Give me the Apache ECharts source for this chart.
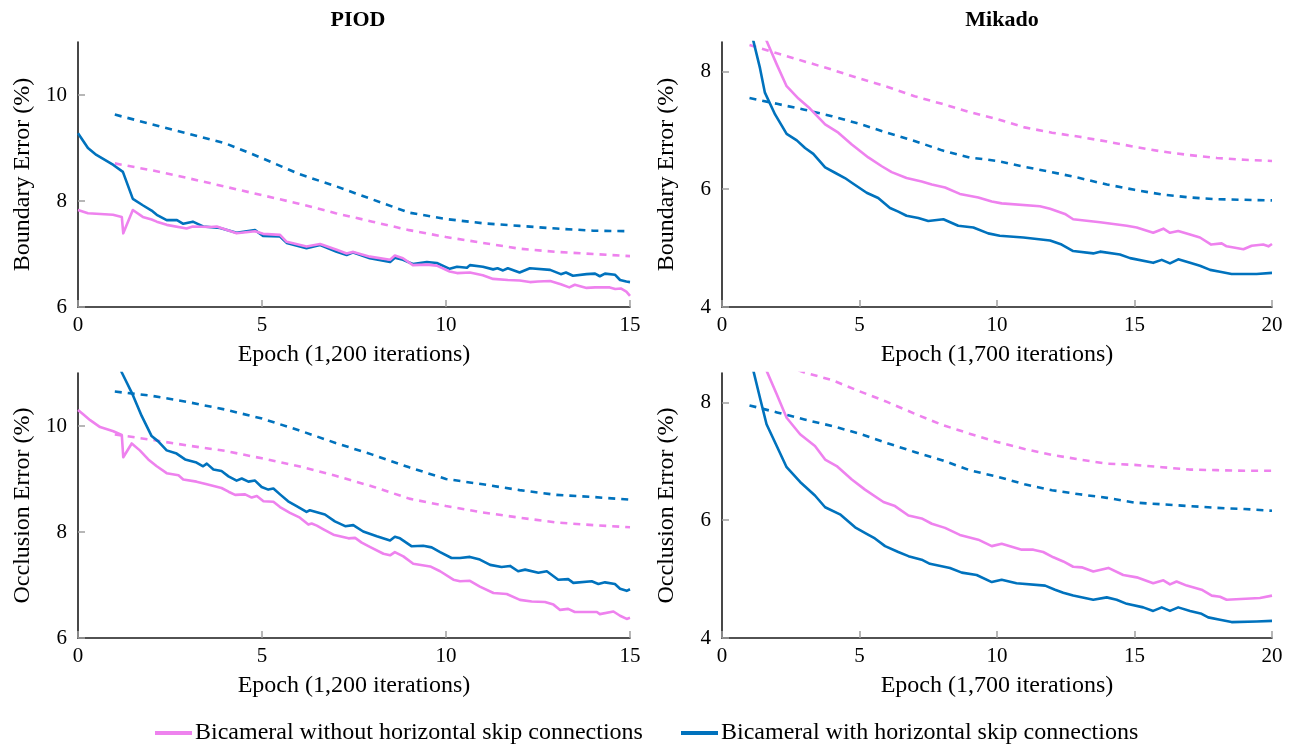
<!DOCTYPE html>
<html>
<head>
<meta charset="utf-8">
<script src="https://cdn.jsdelivr.net/npm/echarts@6/dist/echarts.min.js"></script>
<style>html,body{margin:0;padding:0;background:#fff}#c{width:1293px;height:744px}</style>
</head>
<body>
<div id="c"></div>
<script>
// ---------------- DATA ----------------
const panelTitles = ['PIOD', 'Mikado'];
const seriesNames = ['Bicameral without horizontal skip connections', 'Bicameral with horizontal skip connections'];
const xNamePIOD = 'Epoch (1,200 iterations)';
const xNameMikado = 'Epoch (1,700 iterations)';
const yNameBoundary = 'Boundary Error (%)';
const yNameOcclusion = 'Occlusion Error (%)';
const xTicksPIOD = [0, 5, 10, 15];
const xTicksMikado = [0, 5, 10, 15, 20];
const yTicksPIOD = [6, 8, 10];
const yTicksMikado = [4, 6, 8];

// PIOD boundary
const piodBndWithout = [[0,7.83],[0.27,7.77],[0.95,7.74],[1.19,7.70],[1.23,7.39],[1.49,7.83],[1.76,7.70],[2.0,7.65],[2.14,7.61],[2.41,7.55],[2.95,7.48],[3.12,7.52],[3.59,7.51],[3.77,7.52],[4.31,7.39],[4.81,7.43],[5.03,7.38],[5.49,7.36],[5.67,7.23],[6.21,7.14],[6.58,7.19],[7.03,7.08],[7.3,7.01],[7.48,7.04],[7.93,6.95],[8.48,6.89],[8.61,6.97],[8.83,6.92],[9.1,6.79],[9.48,6.80],[9.75,6.78],[10.1,6.67],[10.3,6.64],[10.65,6.65],[11.0,6.60],[11.28,6.53],[11.68,6.51],[12.0,6.50],[12.28,6.47],[12.5,6.48],[12.83,6.49],[13.12,6.43],[13.35,6.37],[13.5,6.42],[13.82,6.36],[14.05,6.37],[14.45,6.37],[14.6,6.34],[14.75,6.35],[14.9,6.29],[15,6.21]];
const piodBndWith = [[0,9.28],[0.27,9.0],[0.5,8.87],[0.96,8.68],[1.22,8.55],[1.49,8.04],[1.76,7.92],[2.0,7.82],[2.14,7.74],[2.41,7.64],[2.69,7.64],[2.86,7.57],[3.12,7.61],[3.4,7.52],[3.86,7.49],[4.31,7.40],[4.81,7.45],[5.03,7.34],[5.49,7.33],[5.67,7.21],[6.21,7.11],[6.58,7.17],[7.03,7.04],[7.3,6.98],[7.48,7.03],[7.93,6.92],[8.48,6.85],[8.61,6.93],[8.83,6.89],[9.1,6.81],[9.48,6.85],[9.75,6.83],[10.1,6.72],[10.3,6.76],[10.57,6.74],[10.65,6.79],[11.0,6.76],[11.28,6.71],[11.4,6.73],[11.55,6.69],[11.68,6.73],[12.0,6.65],[12.28,6.73],[12.83,6.70],[13.12,6.62],[13.26,6.65],[13.45,6.59],[13.82,6.62],[14.05,6.63],[14.18,6.58],[14.32,6.63],[14.59,6.61],[14.73,6.51],[14.9,6.48],[15,6.47]];
const piodBndWithoutRef = [[1,8.71],[2,8.58],[3,8.43],[4,8.27],[5,8.11],[6,7.95],[7,7.77],[8,7.61],[9,7.45],[10,7.32],[11,7.21],[12,7.10],[13,7.04],[14,7.00],[15,6.96]];
const piodBndWithRef = [[1,9.63],[2,9.45],[3,9.27],[4,9.09],[5,8.81],[6,8.51],[7,8.28],[8,8.03],[9,7.78],[10,7.66],[11,7.58],[12,7.53],[13,7.48],[14,7.44],[15,7.43]];

// Mikado boundary
const mikBndWithout = [[1.4,8.9],[1.62,8.52],[1.99,8.12],[2.35,7.75],[2.78,7.54],[3.2,7.37],[3.75,7.10],[4.23,6.96],[4.72,6.76],[5.32,6.54],[5.81,6.39],[6.17,6.29],[6.71,6.19],[7.26,6.13],[7.63,6.08],[8.11,6.03],[8.65,5.92],[9.32,5.86],[9.81,5.79],[10.17,5.76],[11.56,5.71],[11.93,5.67],[12.47,5.58],[12.77,5.49],[13.75,5.44],[14.72,5.38],[15.08,5.35],[15.68,5.26],[16.05,5.33],[16.29,5.26],[16.59,5.29],[17.02,5.23],[17.38,5.18],[17.79,5.06],[18.17,5.08],[18.35,5.03],[18.96,4.98],[19.26,5.04],[19.68,5.06],[19.87,5.03],[20,5.07]];
const mikBndWith = [[1.0,8.85],[1.14,8.52],[1.38,8.06],[1.56,7.64],[1.93,7.27],[2.35,6.94],[2.72,6.83],[3.02,6.70],[3.32,6.60],[3.75,6.37],[4.11,6.28],[4.47,6.19],[4.72,6.11],[5.26,5.94],[5.68,5.85],[6.11,5.68],[6.41,5.62],[6.71,5.55],[7.14,5.51],[7.5,5.46],[8.05,5.49],[8.59,5.38],[9.14,5.35],[9.68,5.25],[10.1,5.21],[10.96,5.18],[11.93,5.13],[12.35,5.06],[12.77,4.95],[13.5,4.91],[13.75,4.94],[14.47,4.89],[14.84,4.83],[15.68,4.75],[15.99,4.80],[16.29,4.74],[16.59,4.81],[17.02,4.75],[17.38,4.70],[17.75,4.63],[18.11,4.60],[18.53,4.56],[19.44,4.56],[20,4.58]];
const mikBndWithoutRef = [[1,8.45],[2,8.31],[3,8.17],[4,8.03],[5,7.88],[6,7.74],[7,7.58],[8,7.45],[9,7.31],[10,7.19],[11,7.05],[12,6.96],[13,6.89],[14,6.81],[15,6.72],[16,6.64],[17,6.58],[18,6.53],[19,6.50],[20,6.48]];
const mikBndWithRef = [[1,7.55],[2,7.45],[3,7.35],[4,7.24],[5,7.11],[6,6.96],[7,6.82],[8,6.66],[9,6.54],[10,6.48],[11,6.38],[12,6.29],[13,6.19],[14,6.08],[15,5.99],[16,5.91],[17,5.86],[18,5.83],[19,5.82],[20,5.81]];

// PIOD occlusion
const piodOccWithout = [[0,10.30],[0.14,10.22],[0.33,10.11],[0.6,9.98],[0.96,9.90],[1.19,9.83],[1.23,9.41],[1.46,9.67],[1.68,9.54],[1.91,9.37],[2.14,9.24],[2.41,9.11],[2.73,9.07],[2.86,8.99],[3.22,8.95],[3.5,8.90],[3.9,8.83],[4.09,8.76],[4.27,8.70],[4.54,8.71],[4.72,8.65],[4.86,8.68],[5.04,8.58],[5.31,8.57],[5.49,8.47],[5.76,8.36],[6.03,8.27],[6.26,8.14],[6.35,8.16],[6.49,8.12],[6.67,8.05],[6.94,7.95],[7.35,7.88],[7.53,7.89],[7.71,7.80],[7.93,7.72],[8.3,7.59],[8.48,7.56],[8.61,7.62],[8.84,7.54],[9.11,7.40],[9.57,7.35],[9.84,7.26],[10.2,7.10],[10.38,7.07],[10.65,7.08],[10.92,6.97],[11.29,6.85],[11.65,6.83],[12.01,6.72],[12.33,6.69],[12.69,6.68],[12.92,6.63],[13.1,6.53],[13.32,6.55],[13.5,6.49],[14.1,6.49],[14.18,6.45],[14.55,6.50],[14.73,6.42],[14.91,6.36],[15,6.38]];
const piodOccWith = [[1.1,11.2],[1.19,11.01],[1.46,10.63],[1.73,10.19],[2.0,9.81],[2.18,9.71],[2.41,9.54],[2.68,9.48],[2.91,9.37],[3.22,9.31],[3.4,9.24],[3.5,9.29],[3.68,9.18],[3.9,9.15],[4.09,9.05],[4.31,8.97],[4.45,9.01],[4.63,8.95],[4.81,8.97],[4.99,8.85],[5.17,8.80],[5.31,8.82],[5.49,8.71],[5.71,8.58],[5.94,8.49],[6.21,8.38],[6.3,8.41],[6.71,8.33],[6.98,8.20],[7.26,8.11],[7.48,8.13],[7.75,8.01],[8.12,7.92],[8.48,7.84],[8.61,7.91],[8.75,7.88],[9.07,7.73],[9.38,7.74],[9.61,7.71],[9.84,7.62],[10.15,7.51],[10.38,7.51],[10.65,7.53],[10.92,7.48],[11.2,7.38],[11.51,7.34],[11.74,7.36],[11.96,7.26],[12.15,7.29],[12.51,7.23],[12.74,7.26],[13.05,7.10],[13.32,7.11],[13.46,7.04],[13.96,7.07],[14.14,7.02],[14.32,7.05],[14.59,7.02],[14.73,6.93],[14.91,6.89],[15,6.92]];
const piodOccWithoutRef = [[1,9.84],[2,9.74],[3,9.63],[4,9.53],[5,9.39],[6,9.24],[7,9.06],[8,8.86],[9,8.63],[10,8.49],[11,8.37],[12,8.27],[13,8.18],[14,8.13],[15,8.09]];
const piodOccWithRef = [[1,10.65],[2,10.57],[3,10.45],[4,10.31],[5,10.14],[6,9.92],[7,9.68],[8,9.46],[9,9.22],[10,9.00],[11,8.90],[12,8.79],[13,8.70],[14,8.66],[15,8.61]];

// Mikado occlusion
const mikOccWithout = [[1.4,8.9],[1.62,8.54],[1.99,8.14],[2.35,7.74],[2.84,7.46],[3.38,7.26],[3.75,7.03],[4.17,6.92],[4.72,6.69],[5.2,6.52],[5.87,6.31],[6.29,6.24],[6.78,6.08],[7.26,6.03],[7.63,5.94],[8.11,5.87],[8.65,5.75],[9.32,5.67],[9.81,5.56],[10.17,5.60],[10.9,5.50],[11.32,5.50],[11.68,5.46],[12.05,5.37],[12.41,5.30],[12.77,5.21],[13.08,5.20],[13.5,5.13],[14.05,5.19],[14.59,5.07],[15.08,5.03],[15.68,4.93],[16.05,4.98],[16.29,4.91],[16.53,4.96],[16.9,4.89],[17.44,4.82],[17.81,4.72],[18.11,4.70],[18.35,4.65],[19.56,4.68],[20,4.72]];
const mikOccWith = [[1.0,8.9],[1.14,8.54],[1.38,8.08],[1.62,7.63],[1.99,7.26],[2.35,6.90],[2.84,6.65],[3.38,6.42],[3.75,6.22],[4.29,6.10],[4.84,5.88],[5.26,5.77],[5.56,5.69],[5.93,5.56],[6.41,5.46],[6.78,5.39],[7.26,5.33],[7.56,5.26],[8.29,5.19],[8.72,5.11],[9.26,5.07],[9.81,4.95],[10.17,4.99],[10.71,4.93],[11.75,4.89],[12.11,4.82],[12.41,4.77],[12.77,4.72],[13.5,4.65],[13.99,4.69],[14.35,4.65],[14.72,4.58],[15.32,4.52],[15.68,4.46],[15.99,4.52],[16.29,4.46],[16.59,4.52],[17.02,4.46],[17.44,4.41],[17.68,4.35],[18.11,4.31],[18.53,4.27],[19.44,4.28],[20,4.29]];
const mikOccWithoutRef = [[1,8.85],[2,8.68],[3,8.51],[4,8.38],[5,8.19],[6,8.01],[7,7.81],[8,7.62],[9,7.47],[10,7.33],[11,7.21],[12,7.11],[13,7.03],[14,6.96],[15,6.94],[16,6.90],[17,6.86],[18,6.85],[19,6.84],[20,6.84]];
const mikOccWithRef = [[1,7.95],[2,7.83],[3,7.71],[4,7.60],[5,7.47],[6,7.31],[7,7.16],[8,7.02],[9,6.85],[10,6.74],[11,6.61],[12,6.51],[13,6.44],[14,6.38],[15,6.30],[16,6.27],[17,6.24],[18,6.21],[19,6.19],[20,6.16]];

// ---------------- STYLE / LAYOUT ----------------
const PINK = '#EE82EE';
const BLUE = '#0072BD';
const FONT = 'Liberation Serif';
const TICK_FS = 21;
const NAME_FS = 24;

const panels = [
  { grid: {left: 78, top: 42, width: 552, height: 265}, x: [0, 15, xTicksPIOD, xNamePIOD], y: [6, 11, yTicksPIOD, yNameBoundary],
    data: [piodBndWithout, piodBndWith, piodBndWithoutRef, piodBndWithRef] },
  { grid: {left: 722, top: 42, width: 550, height: 265}, x: [0, 20, xTicksMikado, xNameMikado], y: [4, 8.5, yTicksMikado, yNameBoundary],
    data: [mikBndWithout, mikBndWith, mikBndWithoutRef, mikBndWithRef] },
  { grid: {left: 78, top: 373, width: 552, height: 265}, x: [0, 15, xTicksPIOD, xNamePIOD], y: [6, 11, yTicksPIOD, yNameOcclusion],
    data: [piodOccWithout, piodOccWith, piodOccWithoutRef, piodOccWithRef] },
  { grid: {left: 722, top: 373, width: 550, height: 265}, x: [0, 20, xTicksMikado, xNameMikado], y: [4, 8.5, yTicksMikado, yNameOcclusion],
    data: [mikOccWithout, mikOccWith, mikOccWithoutRef, mikOccWithRef] }
];

const grids = [], xAxes = [], yAxes = [], series = [];
panels.forEach((p, i) => {
  grids.push(Object.assign({outerBoundsMode: 'none', containLabel: false, show: false}, p.grid));
  const common = {
    gridIndex: i, type: 'value', nameLocation: 'middle',
    nameTextStyle: {fontFamily: FONT, fontSize: NAME_FS, color: '#000'},
    splitLine: {show: false},
    axisLine: {show: true, onZero: false, lineStyle: {color: '#1a1a1a', width: 1.6}},
  };
  xAxes.push(Object.assign({}, common, {
    min: p.x[0], max: p.x[1], name: p.x[3], nameGap: 36,
    axisTick: {show: true, inside: true, length: 7, lineStyle: {color: '#a0a0a0', width: 1.5}, customValues: p.x[2]},
    axisLabel: {customValues: p.x[2], fontFamily: FONT, fontSize: TICK_FS, color: '#000', margin: 8}
  }));
  yAxes.push(Object.assign({}, common, {
    min: p.y[0], max: p.y[1], name: p.y[3], nameGap: 43, nameRotate: 90,
    axisTick: {show: true, inside: true, length: 7, lineStyle: {color: '#a0a0a0', width: 1.5}, customValues: p.y[2]},
    axisLabel: {customValues: p.y[2], fontFamily: FONT, fontSize: TICK_FS, color: '#000', margin: 11}
  }));
  const mk = (name, d, color, dashed, z) => ({
    type: 'line', name: name, xAxisIndex: i, yAxisIndex: i, data: d,
    showSymbol: false, symbol: 'none', clip: true, z: z, silent: true,
    lineStyle: {color: color, width: 2.6, type: dashed ? [7, 6] : 'solid', cap: 'butt', join: 'round'},
    itemStyle: {color: color}
  });
  series.push(mk(seriesNames[0], p.data[0], PINK, false, 4));
  series.push(mk(seriesNames[1], p.data[1], BLUE, false, 3));
  series.push(mk(seriesNames[0], p.data[2], PINK, true, 2));
  series.push(mk(seriesNames[1], p.data[3], BLUE, true, 2));
});

const legendBase = {
  top: 721, orient: 'horizontal', icon: 'rect', itemWidth: 37, itemHeight: 4, selectedMode: false, padding: 0,
  textStyle: {fontFamily: FONT, fontSize: NAME_FS, color: '#000', padding: [0, 0, 0, -2]}
};

const option = {
  animation: false,
  backgroundColor: '#fff',
  title: [
    {text: panelTitles[0], left: 353, top: 4, textAlign: 'center', textStyle: {fontFamily: FONT, fontWeight: 'bold', fontSize: 22, color: '#000'}},
    {text: panelTitles[1], left: 997, top: 4, textAlign: 'center', textStyle: {fontFamily: FONT, fontWeight: 'bold', fontSize: 22, color: '#000'}}
  ],
  legend: [
    Object.assign({}, legendBase, {left: 155, data: [{name: seriesNames[0], itemStyle: {color: PINK}}]}),
    Object.assign({}, legendBase, {left: 681, data: [{name: seriesNames[1], itemStyle: {color: BLUE}}]})
  ],
  grid: grids, xAxis: xAxes, yAxis: yAxes, series: series
};

const chart = echarts.init(document.getElementById('c'), null, {renderer: 'canvas'});
chart.setOption(option);
</script>
</body>
</html>
